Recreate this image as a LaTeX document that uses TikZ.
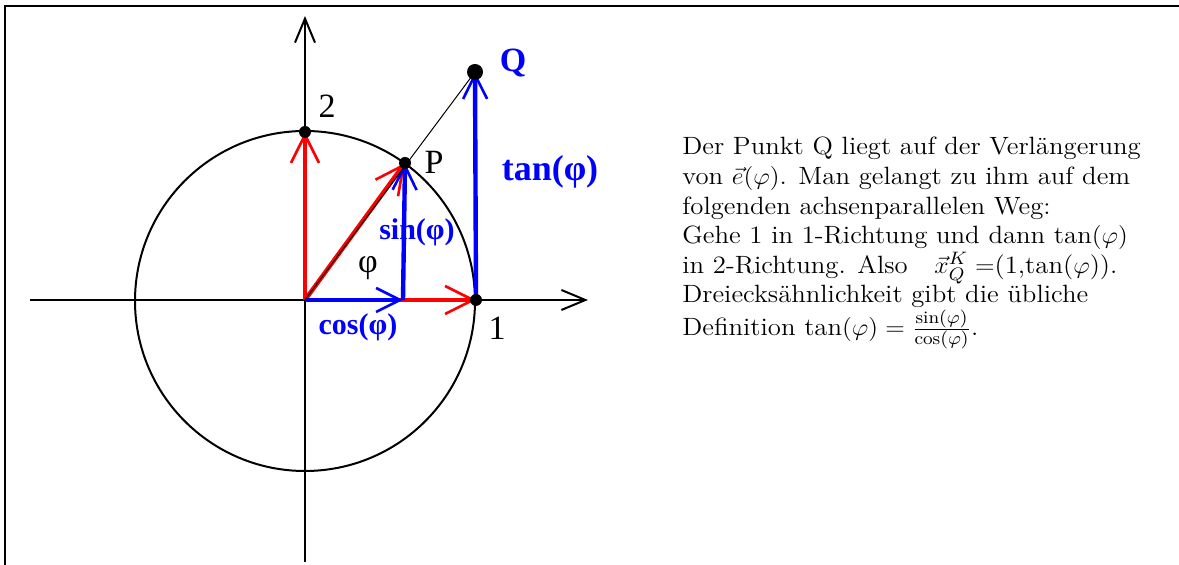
\documentclass[tikz,border=0pt]{standalone}
\usepackage{amsmath}
\usepackage{graphicx}
\usepackage{fontspec}
\newfontfamily\labelfont{Liberation Serif}
\usetikzlibrary{arrows.meta}
\tikzset{
  unit vec/.style={
    -{Straight Barb[length=14pt,width=14pt,line width=1.3pt]},
    line width=2.2pt,
    color=red
  },
  part vec/.style={
    -{Straight Barb[length=12pt,width=12pt,line width=1.3pt]},
    line width=2.2pt,
    color=blue
  },
  axis/.style={
    -{Straight Barb[length=12pt,width=10pt]},
    line width=1pt
  },
  point dot/.style={
    circle,
    fill=black,
    inner sep=0pt,
    minimum size=6pt
  },
  blue label/.style={
    font=\labelfont\bfseries\fontsize{15}{17}\selectfont,
    text=blue,
    inner sep=0pt
  },
  black label/.style={
    font=\labelfont\fontsize{17}{19}\selectfont,
    inner sep=0pt
  }
}

\begin{document}
\begin{tikzpicture}[x=0.5pt, y=-0.5pt]

  \useasboundingbox (0,0) rectangle (1179,565);

  %% ---- Rahmen ----
  \draw[line width=1pt] (5,565) -- (5,6) -- (1179,6);

  %% ---- Punkte ----
  \coordinate (O)  at (305,300);
  \coordinate (E1) at (476,300);   % Punkt 1
  \coordinate (E2) at (305,132);   % Punkt 2
  \coordinate (P)  at (405,163);
  \coordinate (Q)  at (475,72);
  \coordinate (C)  at (403,300);   % Fusspunkt von P

  %% ---- Achsen und Einheitskreis ----
  \coordinate (xl) at (30,300);
  \coordinate (xr) at (588,300);
  \coordinate (yb) at (305,562);
  \coordinate (yt) at (305,16);
  \draw[axis] (xl) -- (xr);
  \draw[axis] (yb) -- (yt);
  \draw[line width=1pt] (305,301) circle[radius=170];

  %% ---- rote Einheitsvektoren ----
  \draw[unit vec] (O) -- (E2);
  \draw[unit vec] (O) -- (E1);
  \draw[unit vec] (O) -- (P);

  %% ---- blaue Anteile ----
  \draw[part vec] (O) -- (C);
  \draw[part vec] (C) -- (P);
  \draw[part vec] (E1) -- (Q);

  % Verlaengerung durch P
  \draw[line width=0.5pt] (O) -- (Q);

  \node[point dot] (dot2) at (E2) {};
  \node[point dot] (dotP) at (P)  {};
  \node[point dot] (dot1) at (E1) {};
  \node[point dot, minimum size=8pt] (dotQ) at (Q) {};

  %% ---- Beschriftung ----
  \node[black label] (lab2)   at (327,106) {2};
  \node[black label] (labP)   at (434,162) {P};
  \node[black label] (lab1)   at (497,328) {1};
  \node[black label] (labphi) at (368,268) {φ};
  \node[blue label, font=\labelfont\bfseries\fontsize{17}{19}\selectfont]
       (labQ)   at (513,63)  {Q};
  \node[blue label, font=\labelfont\bfseries\fontsize{18}{20}\selectfont]
       (labtan) at (550,172) {tan(φ)};
  \node[blue label] (labsin) at (417,232) {sin(φ)};
  \node[blue label] (labcos) at (358,327) {cos(φ)};

  %% ---- Erklaerung rechts ----
  \node[anchor=base west, inner sep=0pt] (txt) at (682,155) {%
    \scalebox{1.07}[1]{\vtop{\fontsize{12.5}{14.8}\selectfont
      \hbox{Der Punkt Q liegt auf der Verlängerung}
      \hbox{von $\vec{e}(\varphi)$. Man gelangt zu ihm auf dem}
      \hbox{folgenden achsenparallelen Weg:}
      \hbox{Gehe 1 in 1-Richtung und dann $\tan(\varphi)$}
      \hbox{in 2-Richtung. Also\quad $\vec{x}_Q^K=$(1,tan($\varphi$)).}
      \hbox{Dreiecksähnlichkeit gibt die übliche}
      \hbox{Definition $\tan(\varphi)=\frac{\sin(\varphi)}{\cos(\varphi)}$.}}}};

\end{tikzpicture}
\end{document}
